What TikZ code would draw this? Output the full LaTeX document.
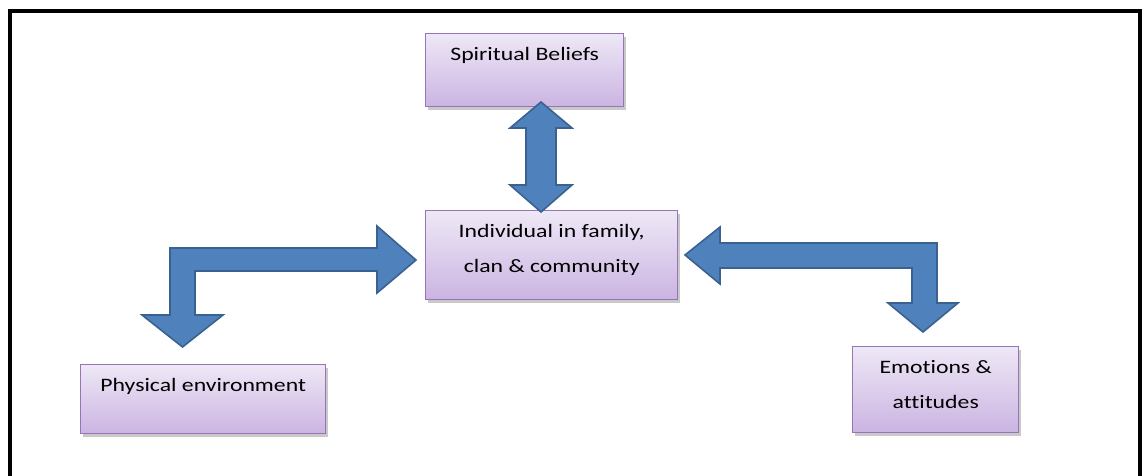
\documentclass[tikz,border=0pt]{standalone}
\usepackage{fontspec}
\setmainfont{Carlito}[FakeStretch=1.25, Ligatures=NoCommon]
\usetikzlibrary{shadows}
\definecolor{boxtop}{HTML}{EEE8F6}
\definecolor{boxbot}{HTML}{CBB4E2}
\definecolor{boxline}{HTML}{9674B6}
\definecolor{arrfill}{HTML}{4F81BD}
\definecolor{arrline}{HTML}{3A6291}
\tikzset{
  purplebox/.style={draw=boxline, line width=1.4pt, top color=boxtop, bottom color=boxbot,
    inner sep=0pt, anchor=north west, font=\fontsize{19}{35}\selectfont,
    drop shadow={shadow xshift=2pt, shadow yshift=-3pt, opacity=0.35, fill=black!60}},
  blockarrow/.style={fill=arrfill, draw=arrline, line width=1.6pt, line join=miter}
}
\newcommand{\boxtext}[3]{\parbox[t][#2pt][t]{#1pt}{\centering\baselineskip=35pt\rule{0pt}{27pt}#3}}
\begin{document}
\begin{tikzpicture}[x=1pt,y=-1pt]
\useasboundingbox (0,0) rectangle (1143,475);
\fill[white] (0,0) rectangle (1143,475);
% frame
\draw[line width=4pt] (10,478) -- (10,11) -- (1140,11) -- (1140,478);
% boxes
\node[purplebox] (sb) at (425,33) {\boxtext{198}{73}{Spiritual Beliefs}};
\node[purplebox] (ind) at (425,210) {\boxtext{252}{89}{Individual in family,\\clan \& community}};
\node[purplebox] (pe) at (80,364) {\boxtext{245}{69}{Physical environment}};
\node[purplebox] (em) at (852,346) {\boxtext{166}{86}{Emotions \&\\attitudes}};
% arrows
\draw[blockarrow] (541,102) -- (572,128) -- (556,128) -- (556,185) -- (572,185) -- (541,212)
  -- (510,185) -- (526,185) -- (526,128) -- (510,128) -- cycle;
\draw[blockarrow] (416,260) -- (377,226) -- (377,248) -- (170,248) -- (170,315) -- (142,315)
  -- (182.5,347) -- (223,315) -- (195,315) -- (195,271) -- (377,271) -- (377,293) -- cycle;
\draw[blockarrow] (685,255) -- (720,227) -- (720,243) -- (937,243) -- (937,303) -- (958,303)
  -- (923,332) -- (888,303) -- (912,303) -- (912,268) -- (720,268) -- (720,284) -- cycle;
\end{tikzpicture}
\end{document}
